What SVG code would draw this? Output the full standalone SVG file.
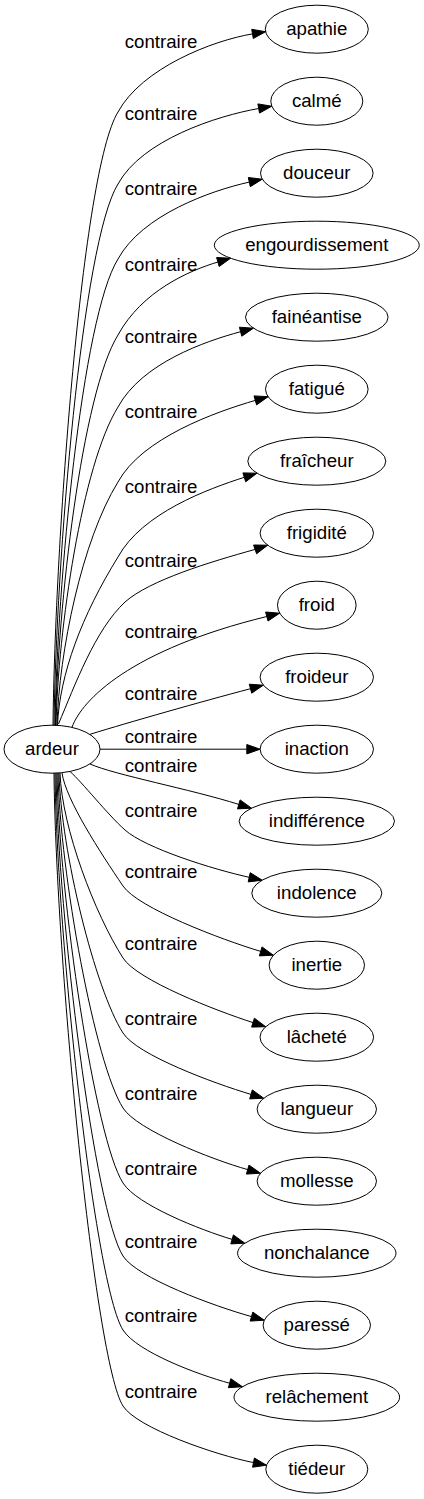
<svg xmlns="http://www.w3.org/2000/svg" width="424" height="1499" viewBox="0 0 424 1499">
<style>
text{font-family:"Liberation Sans",Arial,sans-serif;font-size:18.67px;fill:#000;text-anchor:middle}
.node ellipse{fill:none;stroke:#000;stroke-width:1}
.edges path{fill:none;stroke:#000;stroke-width:1}
.edges polygon{fill:#000;stroke:#000;stroke-width:1}
</style>
<rect width="424" height="1499" fill="#fff"/>
<g class="edges" id="edges">
<path d="M53,725.5 C55,541 82,170 118,112 C142,68 212.7,40.5 252.5,33.9"/><polygon points="265.6,31.7 253.3,38.5 251.7,29.3"/>
<path d="M54,725.5 C56,562.7 82,242 118,184 C142,140 217.1,115.8 258.7,108.5"/><polygon points="271.8,106.2 259.5,113.1 257.9,103.9"/>
<path d="M55,725.5 C57,585.2 82,317 118,259 C142,215 210.8,190.6 249.3,182.1"/><polygon points="262.3,179.2 250.3,186.7 248.3,177.5"/>
<path d="M55.5,725.5 C57.5,608 82,393 118,335 C142,291 189.2,270.6 217.9,262"/><polygon points="230.6,258.2 219.2,266.5 216.6,257.5"/>
<path d="M56,725.5 C58,629.6 82,465 118,407 C142,363 205.1,341.3 240.6,331.7"/><polygon points="253.4,328.2 241.8,336.2 239.4,327.2"/>
<path d="M57,725.5 C59,652.1 82,540 118,482 C142,438 215.7,411.9 255.3,400.4"/><polygon points="268.1,396.7 256.6,404.9 254,395.9"/>
<path d="M57.5,725.5 C59.5,674.6 82,615 118,557 C142,513 208.2,488.9 244.3,477.3"/><polygon points="257,473.2 245.7,481.8 242.9,472.9"/>
<path d="M58.5,724 C75,685 95,630 125,602 C150,580 210,562 255.1,549.4"/><polygon points="267.7,545.2 256.6,553.8 253.6,545"/>
<path d="M72,727.2 C82,700 130,650 266.8,616.5"/><polygon points="279.7,613.2 268,621 265.6,612"/>
<path d="M90,734.3 C130,722 200,702 250.5,688.7"/><polygon points="263.3,685.2 251.7,693.2 249.3,684.2"/>
<path d="M100,749.2 L246.8,749.2"/><polygon points="260.1,749.2 246.8,753.9 246.8,744.5"/>
<path d="M90,764 C115,775 190,789 238.8,804.4"/><polygon points="251.5,808.2 237.5,808.9 240.1,799.9"/>
<path d="M70,771.5 C82,782 108,815 125,830 C145,848 212.8,869.3 249.2,877.3"/><polygon points="262.2,880.2 248.2,881.9 250.2,872.7"/>
<path d="M62,773 C66,800 100,852 123,886 C138,908 221.1,939.5 260.7,951.4"/><polygon points="273.4,955.2 259.4,955.9 262,946.9"/>
<path d="M60,773 C62,828.5 95,914 123,958 C137,980 215.9,1010.7 253,1022.6"/><polygon points="265.7,1026.7 251.6,1027.1 254.4,1018.2"/>
<path d="M59,773 C61,851 95,989 123,1033 C137,1055 214.2,1083.4 251,1094.4"/><polygon points="263.7,1098.2 249.7,1098.9 252.3,1089.9"/>
<path d="M58,773 C60,873.5 95,1064 123,1108 C137,1130 211.7,1159.5 247.7,1169.6"/><polygon points="260.5,1173.2 246.4,1174.1 249,1165.1"/>
<path d="M57,773 C59,896 95,1139 123,1183 C137,1205 200.8,1230 232.1,1239.4"/><polygon points="244.8,1243.2 230.8,1243.9 233.4,1234.9"/>
<path d="M56,773 C58,917.9 95,1212 123,1256 C137,1278 214.3,1306.2 251.5,1316.6"/><polygon points="264.3,1320.2 250.2,1321.1 252.8,1312.1"/>
<path d="M55,773 C57,940.1 95,1286 123,1330 C137,1352 198.7,1374.9 229.6,1383.2"/><polygon points="242.4,1386.7 228.4,1387.7 230.8,1378.7"/>
<path d="M54,773 C56,962.9 95,1362 123,1406 C137,1428 215.2,1454.9 253.5,1462.6"/><polygon points="266.5,1465.2 252.6,1467.2 254.4,1458"/>
<text x="161" y="48">contraire</text>
<text x="161" y="120">contraire</text>
<text x="161" y="195">contraire</text>
<text x="161" y="271">contraire</text>
<text x="161" y="343">contraire</text>
<text x="161" y="418">contraire</text>
<text x="161" y="493">contraire</text>
<text x="161" y="567">contraire</text>
<text x="161" y="638">contraire</text>
<text x="161" y="700">contraire</text>
<text x="161" y="743">contraire</text>
<text x="161" y="772">contraire</text>
<text x="161" y="817">contraire</text>
<text x="161" y="878">contraire</text>
<text x="161" y="950">contraire</text>
<text x="161" y="1025">contraire</text>
<text x="161" y="1100">contraire</text>
<text x="161" y="1175">contraire</text>
<text x="161" y="1248">contraire</text>
<text x="161" y="1322">contraire</text>
<text x="161" y="1398">contraire</text>
</g>
<g class="node" id="ardeur"><ellipse cx="52" cy="749.2" rx="48" ry="24"/><text x="52" y="755">ardeur</text></g>
<g class="node" id="apathie"><ellipse cx="316.8" cy="29.2" rx="51.5" ry="24"/><text x="316.8" y="35">apathie</text></g>
<g class="node" id="calme"><ellipse cx="316.8" cy="101.2" rx="46" ry="24"/><text x="316.8" y="107">calmé</text></g>
<g class="node" id="douceur"><ellipse cx="316.8" cy="173.2" rx="56.3" ry="24"/><text x="316.8" y="179">douceur</text></g>
<g class="node" id="engourdissement"><ellipse cx="316.8" cy="245.2" rx="102.5" ry="24"/><text x="316.8" y="251">engourdissement</text></g>
<g class="node" id="faineantise"><ellipse cx="316.8" cy="317.2" rx="71.3" ry="24"/><text x="316.8" y="323">fainéantise</text></g>
<g class="node" id="fatigue"><ellipse cx="316.8" cy="389.2" rx="51.3" ry="24"/><text x="316.8" y="395">fatigué</text></g>
<g class="node" id="fraicheur"><ellipse cx="316.8" cy="461.2" rx="69" ry="24"/><text x="316.8" y="467">fraîcheur</text></g>
<g class="node" id="frigidite"><ellipse cx="316.8" cy="533.2" rx="56.7" ry="24"/><text x="316.8" y="539">frigidité</text></g>
<g class="node" id="froid"><ellipse cx="316.8" cy="605.2" rx="39.3" ry="24"/><text x="316.8" y="611">froid</text></g>
<g class="node" id="froideur"><ellipse cx="316.8" cy="677.2" rx="56.7" ry="24"/><text x="316.8" y="683">froideur</text></g>
<g class="node" id="inaction"><ellipse cx="316.8" cy="749.2" rx="56.7" ry="24"/><text x="316.8" y="755">inaction</text></g>
<g class="node" id="indifference"><ellipse cx="316.8" cy="821.2" rx="77.7" ry="24"/><text x="316.8" y="827">indifférence</text></g>
<g class="node" id="indolence"><ellipse cx="316.8" cy="893.2" rx="65" ry="24"/><text x="316.8" y="899">indolence</text></g>
<g class="node" id="inertie"><ellipse cx="316.8" cy="965.2" rx="47.7" ry="24"/><text x="316.8" y="971">inertie</text></g>
<g class="node" id="lachete"><ellipse cx="316.8" cy="1037.2" rx="56.8" ry="24"/><text x="316.8" y="1043">lâcheté</text></g>
<g class="node" id="langueur"><ellipse cx="316.8" cy="1109.2" rx="59.7" ry="24"/><text x="316.8" y="1115">langueur</text></g>
<g class="node" id="mollesse"><ellipse cx="316.8" cy="1181.2" rx="59.7" ry="24"/><text x="316.8" y="1187">mollesse</text></g>
<g class="node" id="nonchalance"><ellipse cx="316.8" cy="1253.2" rx="79.2" ry="24"/><text x="316.8" y="1259">nonchalance</text></g>
<g class="node" id="paresse"><ellipse cx="316.8" cy="1325.2" rx="53.7" ry="24"/><text x="316.8" y="1331">paressé</text></g>
<g class="node" id="relachement"><ellipse cx="316.8" cy="1397.2" rx="82.8" ry="24"/><text x="316.8" y="1403">relâchement</text></g>
<g class="node" id="tiedeur"><ellipse cx="316.8" cy="1469.2" rx="51" ry="24"/><text x="316.8" y="1475">tiédeur</text></g>
</svg>
